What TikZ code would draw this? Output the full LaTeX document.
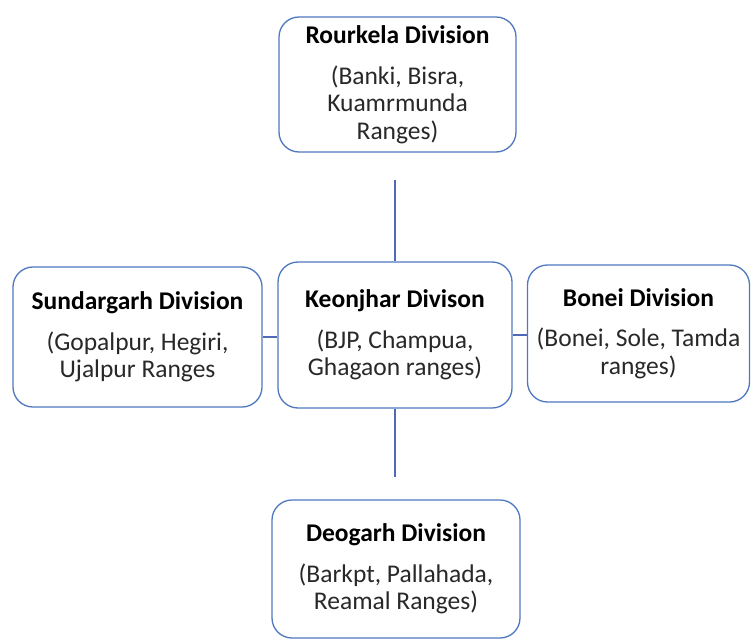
\documentclass[tikz,border=0pt]{standalone}
\usepackage{fontspec}
\setmainfont{Carlito}
\usepackage{tikz}
\usetikzlibrary{calc}
\definecolor{DivLine}{RGB}{79,120,190}
\definecolor{LinkCol}{RGB}{80,105,180}
\definecolor{SubTxt} {RGB}{40,40,40}
\tikzset{
  nd_div/.style={
    rectangle, rounded corners=20bp,
    draw=DivLine, line width=1.3bp, fill=white,
    inner sep=0pt, align=center, text=SubTxt,
    font=\fontsize{25.5bp}{27.5bp}\selectfont},
  link/.style={draw=LinkCol, line width=1.1bp},
}
\newcommand{\divtxt}[2]{\textcolor{black}{\textbf{#1}}\\[13bp]#2}

\begin{document}
\begin{tikzpicture}[x=1bp,y=-1bp]

%% page frame 751 x 641
\useasboundingbox (0,0) rectangle (751,641);

%% division boxes
\node[nd_div, minimum width=237bp, minimum height=135bp] at (397.5,84.5) (Rour)
  {\divtxt{Rourkela Division}{(Banki, Bisra,\\Kuamrmunda\\Ranges)}};
\node[nd_div, minimum width=249bp, minimum height=140bp] at (137.5,337) (Sund)
  {\divtxt{Sundargarh Division}{(Gopalpur, Hegiri,\\Ujalpur Ranges}};
\node[nd_div, minimum width=234bp, minimum height=146bp] at (395,335) (Keon)
  {\divtxt{Keonjhar Divison}{(BJP, Champua,\\Ghagaon ranges)}};
\node[nd_div, minimum width=222bp, minimum height=137bp] at (638.5,333.5) (Bone)
  {\divtxt{Bonei Division}{(Bonei, Sole, Tamda\\ranges)}};
\node[nd_div, minimum width=248bp, minimum height=138bp] at (396,569) (Deog)
  {\divtxt{Deogarh Division}{(Barkpt, Pallahada,\\Reamal Ranges)}};

%% loose ends of the vertical links
\coordinate (topEnd) at (395,180);
\coordinate (botEnd) at (395,477);

%% links
\draw[link] (topEnd) -- (Keon.north);
\draw[link] (Keon.south) -- (botEnd);
\draw[link] (Sund.east) -- (Sund.east -| Keon.west);
\draw[link] (Keon.east) -- (Keon.east -| Bone.west);

\end{tikzpicture}
\end{document}
